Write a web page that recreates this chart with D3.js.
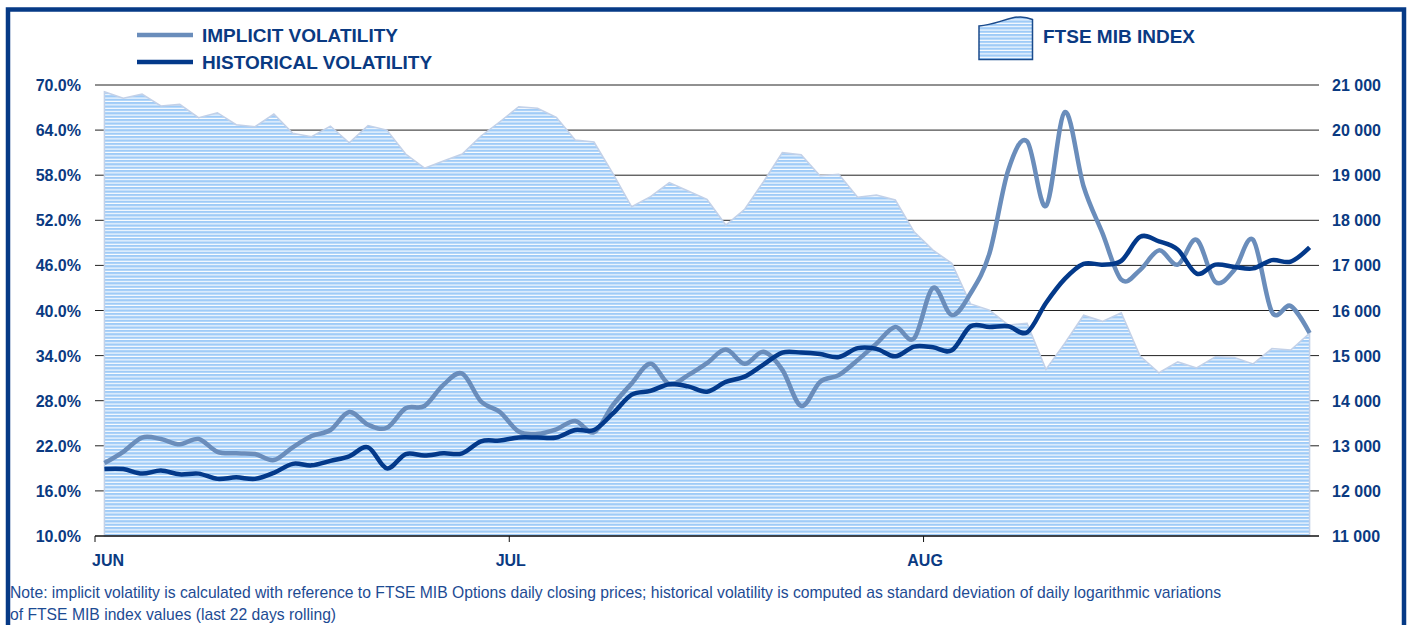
<!DOCTYPE html>
<html>
<head>
<meta charset="utf-8">
<script src="https://cdn.jsdelivr.net/npm/d3@7"></script>
<style>
  body { margin: 0; background: #fff; }
  svg { display: block; font-family: Arial, "Liberation Sans", sans-serif; }
</style>
</head>
<body>
<svg width="1407" height="625"></svg>
<script>
// DATA
const months = ['JUN', 'JUL', 'AUG'];
const monthStart = [0, 22, 44];
const leftTicks = [10, 16, 22, 28, 34, 40, 46, 52, 58, 64, 70];
const rightTicks = [11000, 12000, 13000, 14000, 15000, 16000, 17000, 18000, 19000, 20000, 21000];

const ftse = [
  20850, 20705, 20800, 20535, 20570, 20275, 20385, 20120, 20075, 20355,
  19930, 19855, 20090, 19720, 20100, 20000, 19470, 19155, 19315, 19470,
  19870, 20185, 20520, 20485, 20285, 19780, 19735, 19040, 18300, 18525,
  18835, 18650, 18465, 17895, 18245, 18855, 19500, 19455, 18990, 19020,
  18510, 18560, 18450, 17745, 17340, 17045, 16145, 16010, 15680, 15715,
  14695, 15275, 15895, 15760, 15950, 14990, 14620, 14860, 14725, 14975,
  14960, 14815, 15155, 15125, 15495
];
const implied = [
  19.7, 21.2, 23.1, 22.9, 22.2, 22.9, 21.2, 21.0, 20.9, 20.1,
  21.8, 23.3, 24.1, 26.5, 24.8, 24.4, 27.0, 27.3, 30.1, 31.6,
  27.9, 26.5, 23.9, 23.6, 24.2, 25.3, 23.8, 27.4, 30.3, 32.9,
  30.2, 31.4, 33.0, 34.8, 32.9, 34.5, 32.1, 27.3, 30.5, 31.4,
  33.4, 35.6, 37.8, 36.3, 43.0, 39.4, 42.3, 47.6, 58.7, 62.5,
  53.9, 66.4, 56.5, 50.3, 44.1, 45.4, 48.0, 46.1, 49.4, 43.8,
  45.4, 49.4, 39.8, 40.6, 37.0
];
const historical = [
  18.9, 18.9, 18.3, 18.7, 18.2, 18.3, 17.6, 17.8, 17.6, 18.4,
  19.6, 19.4, 20.0, 20.6, 21.8, 19.0, 20.9, 20.7, 21.0, 21.0,
  22.6, 22.7, 23.1, 23.1, 23.1, 24.1, 24.1, 26.3, 28.8, 29.3,
  30.2, 29.9, 29.2, 30.5, 31.2, 32.8, 34.4, 34.4, 34.2, 33.8,
  35.0, 34.9, 33.9, 35.2, 35.1, 34.7, 37.9, 37.8, 37.9, 37.1,
  41.0, 44.2, 46.2, 46.1, 46.6, 49.8, 49.2, 48.1, 44.9, 46.1,
  45.8, 45.6, 46.7, 46.5, 48.4
];

const navy = '#0a3a82';
const implColor = '#6a8dbb';
const histColor = '#03398a';

const svg = d3.select('svg');
const plotLeft = 95, plotRight = 1319, plotTop = 85, plotBottom = 536;

const x = d3.scaleBand().domain(d3.range(ftse.length)).range([plotLeft, plotRight]);
const cx = i => x(i) + x.bandwidth() / 2;
const yL = d3.scaleLinear().domain([10, 70]).range([plotBottom, plotTop]);
const yR = d3.scaleLinear().domain([11000, 21000]).range([plotBottom, plotTop]);
const fmtR = d3.formatLocale({ decimal: '.', thousands: ' ', grouping: [3], currency: ['', ''] }).format(',d');

// stripes
const defs = svg.append('defs');
const pat = defs.append('pattern')
    .attr('id', 'stripes')
    .attr('patternUnits', 'userSpaceOnUse')
    .attr('width', 10)
    .attr('height', 3.4);
pat.append('rect').attr('width', 10).attr('height', 3.4).attr('fill', '#fff');
pat.append('rect').attr('width', 10).attr('height', 2.3).attr('fill', '#9fcbf7');

// frame
svg.append('rect')
    .attr('x', 8).attr('y', 9.5)
    .attr('width', 1396).attr('height', 640)
    .attr('fill', 'none')
    .attr('stroke', '#063a86')
    .attr('stroke-width', 4.5);

// GRID
svg.append('g')
  .selectAll('line')
  .data(leftTicks.slice(1))
  .join('line')
    .attr('x1', plotLeft).attr('x2', plotRight)
    .attr('y1', d => yL(d)).attr('y2', d => yL(d))
    .attr('stroke', '#222')
    .attr('stroke-width', 1);

// AREA
svg.append('path')
    .datum(ftse)
    .attr('d', d3.area()
      .x((d, i) => cx(i))
      .y0(plotBottom)
      .y1(d => yR(d)))
    .attr('fill', 'url(#stripes)')
    .attr('stroke', '#c3d1e8')
    .attr('stroke-width', 1.5);

// x axis
svg.append('line')
    .attr('x1', plotLeft).attr('x2', plotRight)
    .attr('y1', plotBottom).attr('y2', plotBottom)
    .attr('stroke', '#111')
    .attr('stroke-width', 1.3);

svg.append('g')
  .selectAll('line')
  .data(monthStart)
  .join('line')
    .attr('x1', d => x(d)).attr('x2', d => x(d))
    .attr('y1', plotBottom).attr('y2', plotBottom + 6)
    .attr('stroke', '#111');

svg.append('g')
  .selectAll('text')
  .data(months)
  .join('text')
    .attr('x', (d, i) => i === 0 ? x(monthStart[i]) - 3 : x(monthStart[i]) + 1.5)
    .attr('y', 566)
    .attr('text-anchor', (d, i) => i === 0 ? 'start' : 'middle')
    .attr('fill', navy)
    .attr('font-size', 16)
    .attr('font-weight', 'bold')
    .text(d => d);

// y labels
svg.append('g')
  .selectAll('text')
  .data(leftTicks)
  .join('text')
    .attr('x', 81)
    .attr('y', d => yL(d) + 6)
    .attr('text-anchor', 'end')
    .attr('fill', navy)
    .attr('font-size', 16)
    .attr('font-weight', 'bold')
    .text(d => d.toFixed(1) + '%');

svg.append('g')
  .selectAll('text')
  .data(rightTicks)
  .join('text')
    .attr('x', 1332)
    .attr('y', d => yR(d) + 6)
    .attr('fill', navy)
    .attr('font-size', 16)
    .attr('font-weight', 'bold')
    .text(d => fmtR(d));

// LINES
const line = d3.line()
    .x((d, i) => cx(i))
    .y(d => yL(d))
    .curve(d3.curveCardinal);

svg.append('path')
    .datum(implied)
    .attr('d', line)
    .attr('fill', 'none')
    .attr('stroke', implColor)
    .attr('stroke-width', 4.5);

svg.append('path')
    .datum(historical)
    .attr('d', line)
    .attr('fill', 'none')
    .attr('stroke', histColor)
    .attr('stroke-width', 4.5);

// LEGEND
const legend = [
  { name: 'IMPLICIT VOLATILITY', color: implColor, y: 35 },
  { name: 'HISTORICAL VOLATILITY', color: histColor, y: 62 }
];
legend.forEach(l => {
  svg.append('line')
      .attr('x1', 137).attr('x2', 193)
      .attr('y1', l.y).attr('y2', l.y)
      .attr('stroke', l.color)
      .attr('stroke-width', 4.5);
  svg.append('text')
      .attr('x', 202).attr('y', l.y + 7)
      .attr('fill', navy)
      .attr('font-size', 19)
      .attr('font-weight', 'bold')
      .text(l.name);
});

svg.append('path')
    .attr('d', 'M979,59.5 L979,26 C992,25 1000,21 1012,18 C1020,16 1027,17 1032.5,19.5 L1032.5,59.5 Z')
    .attr('fill', 'url(#stripes)')
    .attr('stroke', '#1b4b8c')
    .attr('stroke-width', 1.5);
svg.append('text')
    .attr('x', 1043).attr('y', 43)
    .attr('fill', navy)
    .attr('font-size', 19)
    .attr('font-weight', 'bold')
    .text('FTSE MIB INDEX');

// NOTE
const note = [
  'Note: implicit volatility is calculated with reference to FTSE MIB Options daily closing prices; historical volatility is computed as standard deviation of daily logarithmic variations',
  'of FTSE MIB index values (last 22 days rolling)'
];
svg.append('g')
  .selectAll('text')
  .data(note)
  .join('text')
    .attr('x', 10)
    .attr('y', (d, i) => 598 + i * 22)
    .attr('fill', '#1d4b93')
    .attr('font-size', 15.7)
    .text(d => d);
</script>
</body>
</html>
